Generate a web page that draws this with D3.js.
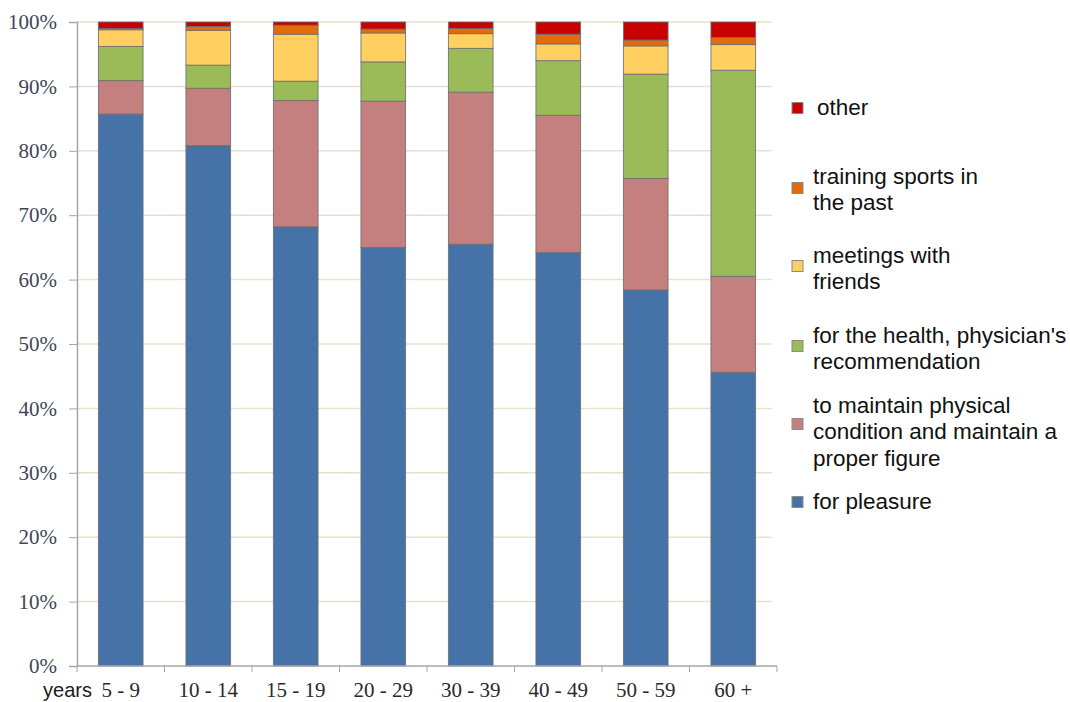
<!DOCTYPE html>
<html><head><meta charset="utf-8">
<script src="https://cdn.jsdelivr.net/npm/d3@7"></script>
<style>body{margin:0;background:#fff}svg{display:block}
.serif{font-family:"Liberation Serif","Times New Roman",Times,serif}
</style>
</head><body>
<svg id="chart" width="1070" height="702"></svg>
<script>
const categories = ["5 - 9","10 - 14","15 - 19","20 - 29","30 - 39","40 - 49","50 - 59","60 +"];
const pleasure   = [85.7, 80.8, 68.2, 65.0, 65.5, 64.2, 58.4, 45.6];
const maintain   = [5.2, 8.9, 19.6, 22.7, 23.6, 21.3, 17.3, 14.9];
const health     = [5.3, 3.6, 3.0, 6.1, 6.8, 8.5, 16.2, 32.0];
const friends    = [2.6, 5.4, 7.3, 4.5, 2.3, 2.6, 4.4, 4.0];
const training   = [0.2, 0.6, 1.4, 0.6, 0.8, 1.5, 0.9, 1.1];
const other      = [1.0, 0.7, 0.5, 1.1, 1.0, 1.9, 2.8, 2.4];
const seriesNames = ["for pleasure","to maintain physical condition and maintain a proper figure","for the health, physician's recommendation","meetings with friends","training sports in the past","other"];
const seriesValues = [pleasure, maintain, health, friends, training, other];
const colors = ["#4572A7","#C4807F","#9BBB59","#FFCF60","#E36C0A","#C80000"];
const yTicks = [0,10,20,30,40,50,60,70,80,90,100];
const legendLines = [
  ["other"],
  ["training sports in","the past"],
  ["meetings with","friends"],
  ["for the health, physician's","recommendation"],
  ["to maintain physical","condition and maintain a","proper figure"],
  ["for pleasure"]
];
const legendColors = ["#C80000","#E36C0A","#FFCF60","#9BBB59","#C4807F","#4572A7"];

(function(){
const svg = d3.select("#chart");
const pl = 77, pr = 777, pt = 22, pb = 666;
const x = d3.scaleBand().domain(categories).range([pl, pr]).paddingInner(0.49).paddingOuter(0.245);
const xb = d3.scaleBand().domain(categories).range([pl, pr]);
const y = d3.scaleLinear().domain([0,100]).range([pb, pt]);

// gridlines
svg.append("g").selectAll("line").data(yTicks.filter(d=>d>0)).join("line")
  .attr("x1", pl).attr("x2", 772).attr("y1", d=>y(d)).attr("y2", d=>y(d))
  .attr("stroke", "#e6e2cf").attr("stroke-width", 1.5);

// stacked data
const rows = categories.map((c,i)=>{const r={cat:c}; seriesNames.forEach((s,j)=>r[s]=seriesValues[j][i]); return r;});
const stack = d3.stack().keys(seriesNames)(rows);
svg.append("g").selectAll("g").data(stack).join("g")
  .attr("fill", (d,i)=>colors[i])
  .selectAll("rect").data(d=>d).join("rect")
  .attr("x", d=>x(d.data.cat)).attr("width", x.bandwidth())
  .attr("y", d=>y(d[1])).attr("height", d=>y(d[0])-y(d[1]))
  .attr("stroke", "#6f6f6f").attr("stroke-width", 1).attr("stroke-opacity", 0.85);

// y axis
const yAxis = d3.axisLeft(y).tickValues(yTicks).tickFormat(d=>d+"%").tickSize(8).tickPadding(12);
const gy = svg.append("g").attr("transform", `translate(${pl},0)`).call(yAxis);
gy.attr("font-family", null);
gy.select(".domain").attr("stroke", "#a6a6a6").attr("stroke-width", 1.5);
gy.selectAll(".tick line").attr("stroke", "#a6a6a6");
gy.selectAll("text").attr("class", "serif").attr("font-size", 21).attr("fill", "#3d4656");

// x axis
const gx = svg.append("g").attr("transform", `translate(0,${pb})`);
gx.append("line").attr("x1", pl).attr("x2", pr).attr("y1", 0).attr("y2", 0).attr("stroke", "#a6a6a6").attr("stroke-width", 1.5);
gx.selectAll("line.t").data(categories.concat(["_end"])).join("line").attr("class","t")
  .attr("x1", (d,i)=> i<categories.length ? xb(d) : pr).attr("x2", (d,i)=> i<categories.length ? xb(d) : pr)
  .attr("y1", 0).attr("y2", 6).attr("stroke", "#a6a6a6");
gx.selectAll("text.c").data(categories).join("text").attr("class","c serif")
  .attr("x", d=>x(d)+x.bandwidth()/2).attr("y", 31).attr("text-anchor","middle")
  .attr("font-size", 21).attr("fill", "#2a2a2a").text(d=>d);
gx.append("text").attr("x", 43).attr("y", 31)
  .style("font-family", "'Liberation Sans Narrow','Liberation Sans',sans-serif").attr("font-size", 21)
  .attr("textLength", 49).attr("lengthAdjust", "spacingAndGlyphs")
  .attr("fill", "#1a1a1a").text("years");

// legend
const itemsY = [108, 188, 266, 346, 424, 502];
const firstLineY = [107, 176, 255, 335, 405, 501];
const lg = svg.append("g");
legendLines.forEach((lines,i)=>{
  lg.append("rect").attr("x", 792).attr("y", itemsY[i]-5.5).attr("width", 11).attr("height", 11)
    .attr("fill", legendColors[i]).attr("stroke", "#8a8a8a").attr("stroke-width", 1);
  lines.forEach((t,k)=>{
    lg.append("text").attr("x", i===0 ? 817 : 813).attr("y", firstLineY[i] + k*26.5).attr("dy", "0.35em")
      .style("font-family", "'Liberation Sans',Arial,sans-serif").attr("font-size", 22.5).attr("fill", "#111").text(t);
  });
});
})();
</script>
</body></html>
